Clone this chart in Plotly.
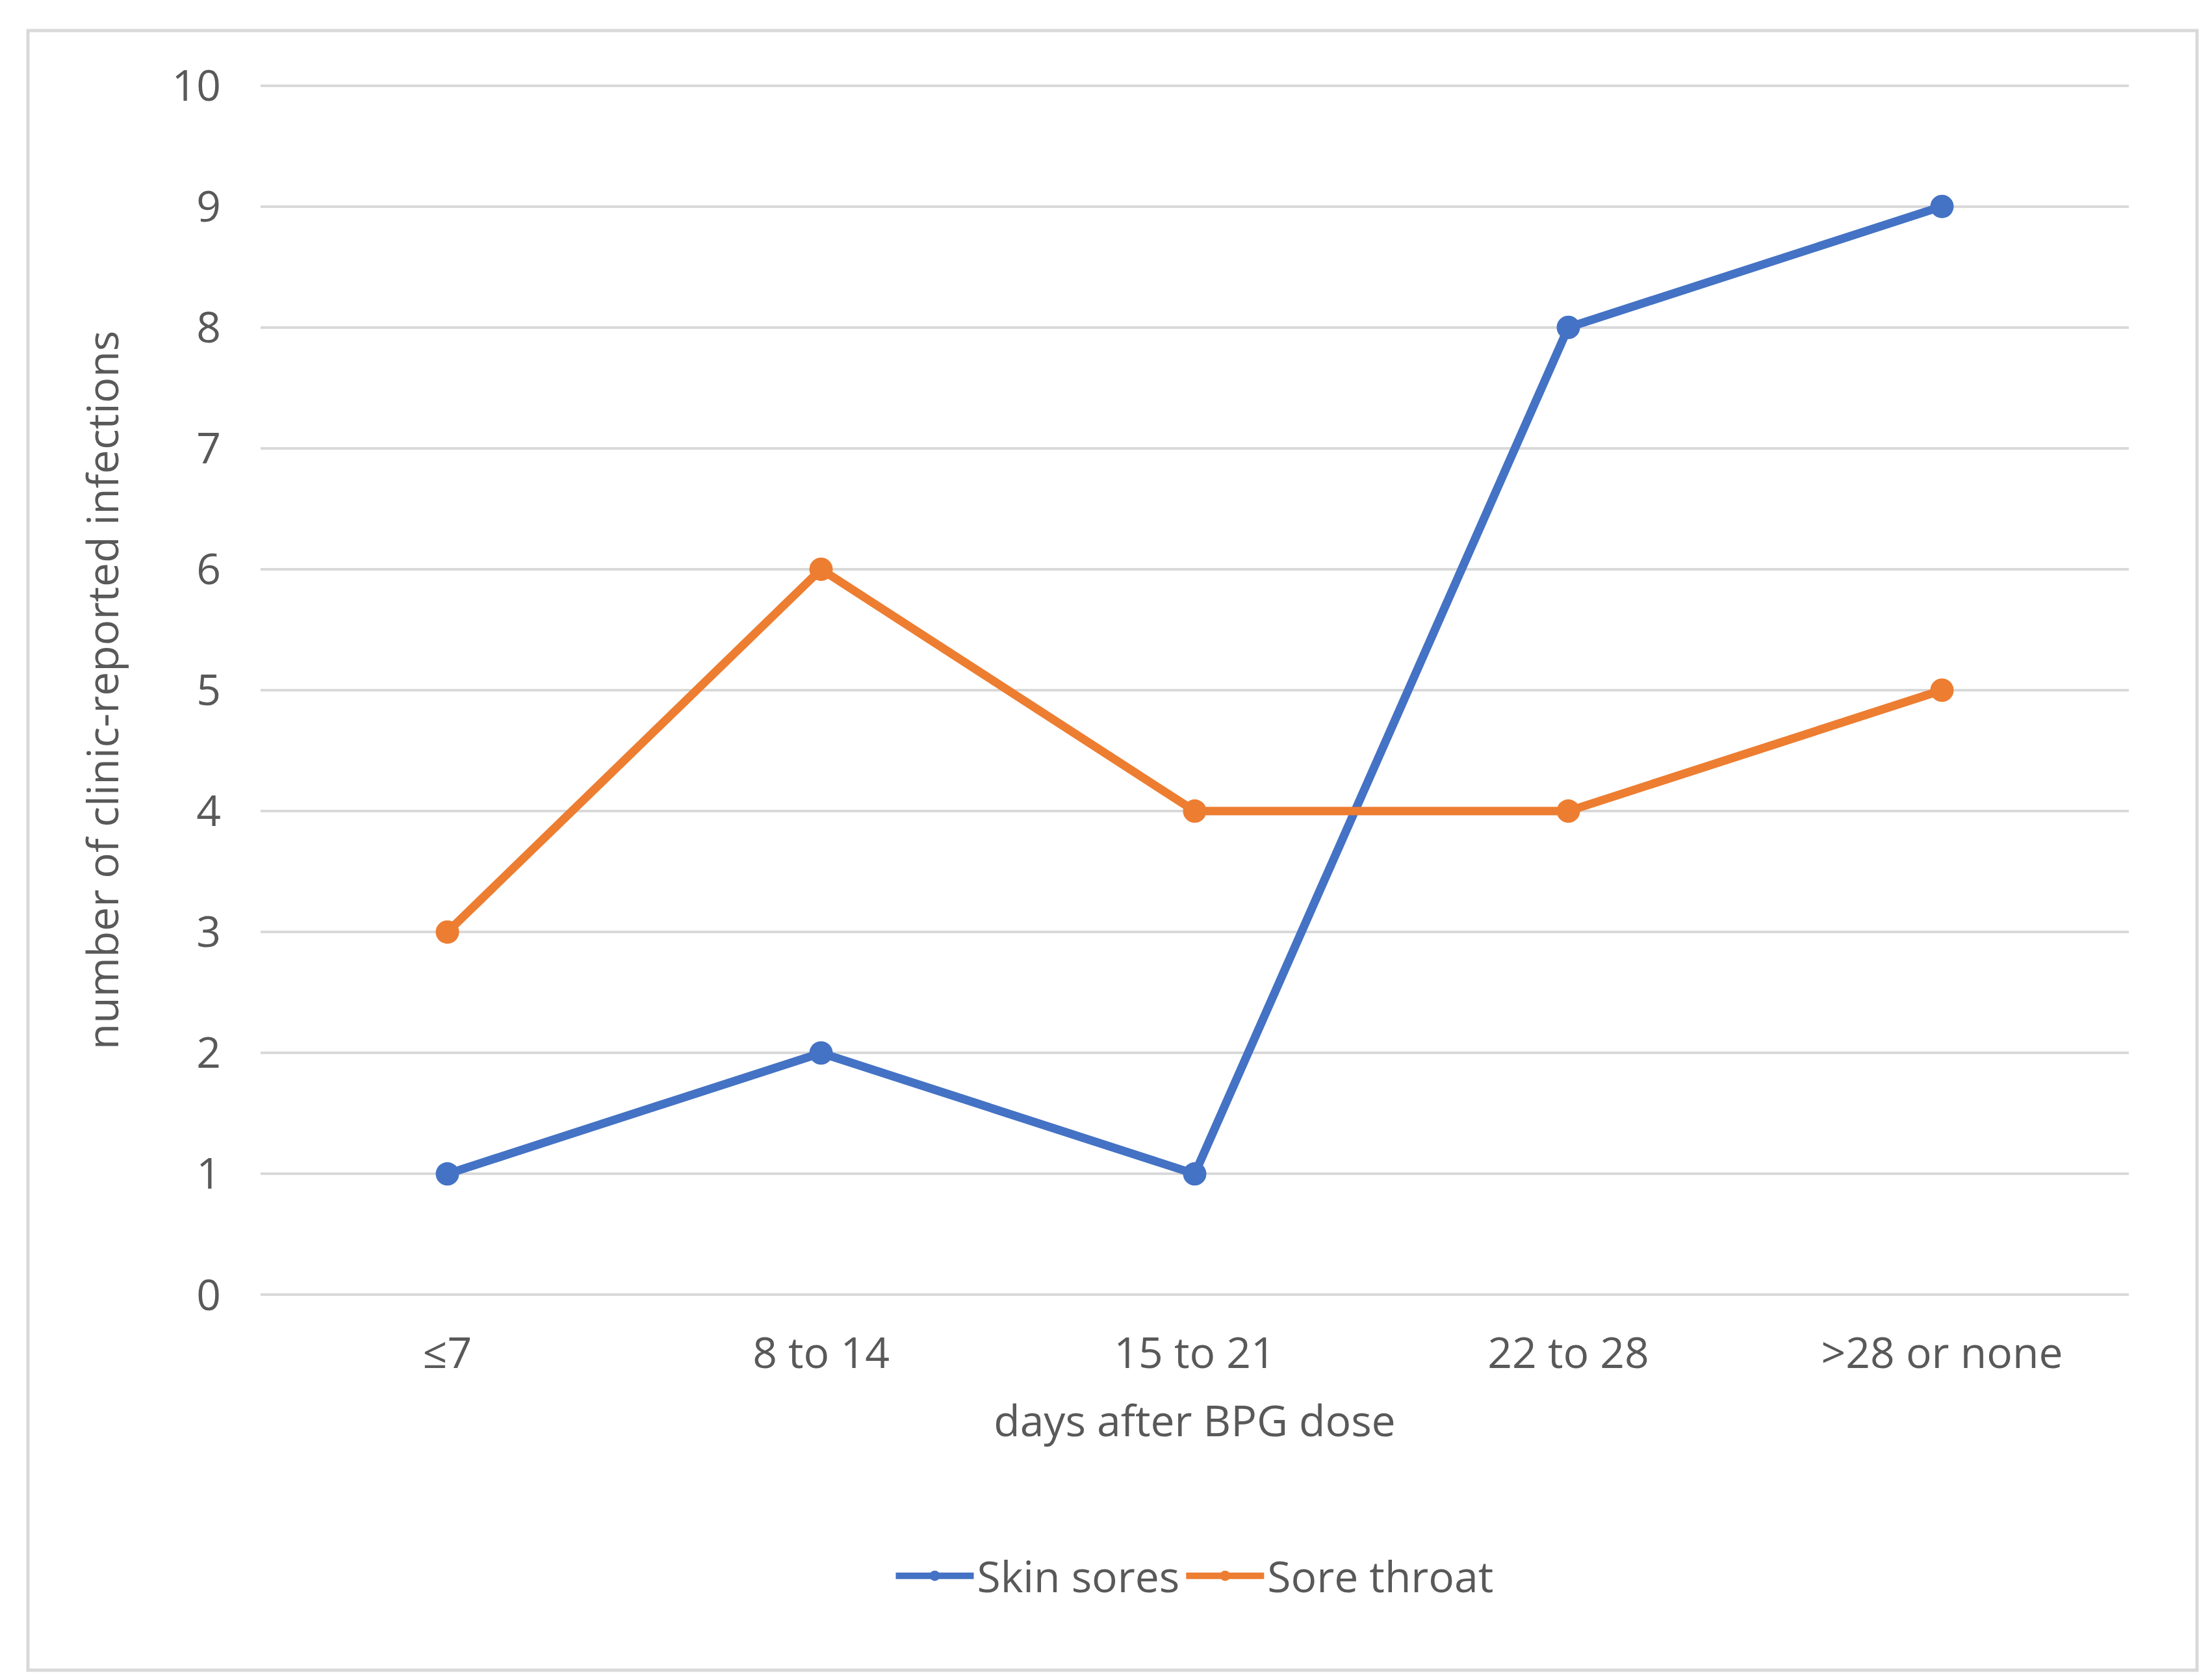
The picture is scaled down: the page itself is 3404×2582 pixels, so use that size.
import plotly.graph_objects as go

categories = ["≤7", "8 to 14", "15 to 21", "22 to 28", ">28 or none"]
skin_sores = [1, 2, 1, 8, 9]
sore_throat = [3, 6, 4, 4, 5]
y_ticks = list(range(0, 11))

W, H = 3404, 2582
txt = "#595959"
font = "Open Sans"
L, R, T, B = 393, 136, 118, 592
pw, ph = W - L - R, H - T - B

fig = go.Figure()
fig.add_trace(go.Scatter(x=categories, y=skin_sores, name="Skin sores", mode="lines+markers",
                         line=dict(color="#4472C4", width=13), marker=dict(size=36, color="#4472C4")))
fig.add_trace(go.Scatter(x=categories, y=sore_throat, name="Sore throat", mode="lines+markers",
                         line=dict(color="#ED7D31", width=13), marker=dict(size=36, color="#ED7D31")))

fig.update_layout(
    width=W, height=H, paper_bgcolor="white", plot_bgcolor="white",
    margin=dict(l=L, r=R, t=T, b=B),
    font=dict(family=font, size=66, color=txt),
    legend=dict(orientation="h", x=0.5, xanchor="center", y=-0.228, yanchor="middle",
                font=dict(size=66, color=txt), itemwidth=120),
    shapes=[dict(type="rect", xref="paper", yref="paper",
                 x0=(35 - L) / pw, x1=(3373 - L) / pw,
                 y0=(H - B - 2562) / ph, y1=(H - B - 39) / ph,
                 line=dict(color="#d9d9d9", width=5))],
)
fig.update_xaxes(range=[-0.5, 4.5], showgrid=False, zeroline=False, showline=False,
                 ticks="", ticklabelstandoff=40,
                 title=dict(text="days after BPG dose", standoff=40, font=dict(size=66, color=txt)))
fig.update_yaxes(range=[-0.03, 10.03], tickvals=y_ticks, showgrid=True, gridcolor="#d9d9d9", gridwidth=4,
                 zeroline=False, showline=False, ticks="", ticklabelstandoff=60,
                 title=dict(text="number of clinic-reported infections", standoff=60,
                            font=dict(size=66, color=txt)))

fig.write_html("out.html")
